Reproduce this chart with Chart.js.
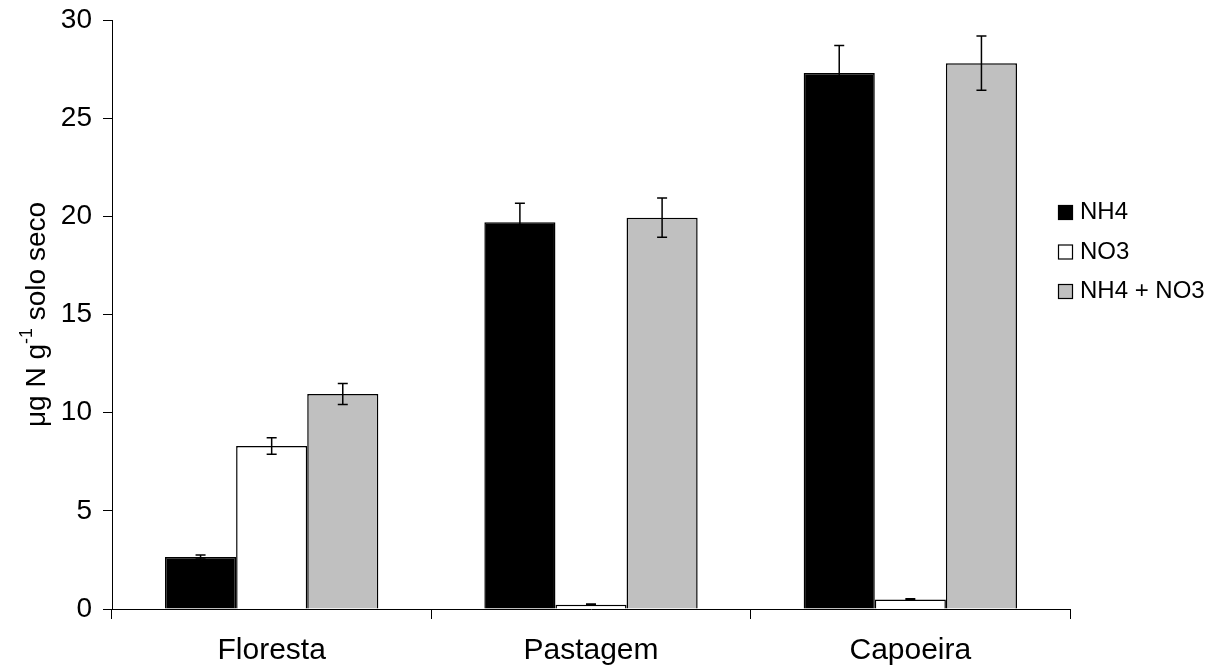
<!DOCTYPE html>
<html>
<head>
<meta charset="utf-8">
<script src="https://cdn.jsdelivr.net/npm/chart.js@4.4.1/dist/chart.umd.min.js"></script>
<style>
  html, body { margin: 0; padding: 0; background: #fff; }
  #wrap { width: 1215px; height: 671px; }
</style>
</head>
<body>
<div id="wrap"><canvas id="chart" width="1215" height="671"></canvas></div>
<script>
/* =====================================================
   DATA
===================================================== */
const categories = ["Floresta", "Pastagem", "Capoeira"];

const nh4 = [2.65, 19.7, 27.3];
const nh4Err = [0.1, 0.97, 1.4];

const no3 = [8.3, 0.22, 0.48];
const no3Err = [0.42, 0.03, 0.04];

const total = [10.95, 19.93, 27.8];
const totalErr = [0.54, 1.0, 1.38];

const yTicks = [0, 5, 10, 15, 20, 25, 30];

const FONT = "'Liberation Sans', Arial, sans-serif";

/* =====================================================
   PLUGINS
===================================================== */
const errorBars = {
  id: "errorBars",
  afterDatasetsDraw(chart) {
    const ctx = chart.ctx;
    const y = chart.scales.y;
    ctx.save();
    ctx.strokeStyle = "#000";
    ctx.lineWidth = 1.5;
    chart.data.datasets.forEach((ds, i) => {
      const meta = chart.getDatasetMeta(i);
      meta.data.forEach((bar, j) => {
        const v = ds.data[j];
        const e = ds.errors[j];
        const top = y.getPixelForValue(v + e);
        const bot = y.getPixelForValue(v - e);
        const x = bar.x;
        ctx.beginPath();
        ctx.moveTo(x, top); ctx.lineTo(x, bot);
        ctx.moveTo(x - 5, top); ctx.lineTo(x + 5, top);
        ctx.moveTo(x - 5, bot); ctx.lineTo(x + 5, bot);
        ctx.stroke();
      });
    });
    ctx.restore();
  }
};

const yTitle = {
  id: "yTitle",
  afterDraw(chart) {
    const ctx = chart.ctx;
    const area = chart.chartArea;
    const main1 = "\u03bcg N g";
    const sup = "-1";
    const main2 = " solo seco";
    ctx.save();
    ctx.fillStyle = "#000";
    ctx.font = "28px " + FONT;
    const w1 = ctx.measureText(main1).width;
    const w3 = ctx.measureText(main2).width;
    ctx.font = "18px " + FONT;
    const w2 = ctx.measureText(sup).width;
    const total = w1 + w2 + w3;
    ctx.translate(45, (area.top + area.bottom) / 2);
    ctx.rotate(-Math.PI / 2);
    ctx.textBaseline = "alphabetic";
    ctx.textAlign = "left";
    let x = -total / 2;
    ctx.font = "28px " + FONT;
    ctx.fillText(main1, x, 0);
    x += w1;
    ctx.font = "18px " + FONT;
    ctx.fillText(sup, x, -13);
    x += w2;
    ctx.font = "28px " + FONT;
    ctx.fillText(main2, x, 0);
    ctx.restore();
  }
};

const sideLegend = {
  id: "sideLegend",
  afterDraw(chart) {
    const ctx = chart.ctx;
    ctx.save();
    ctx.font = "24px " + FONT;
    ctx.textBaseline = "alphabetic";
    ctx.textAlign = "left";
    chart.data.datasets.forEach((ds, i) => {
      const base = 219 + i * 39.5;
      ctx.fillStyle = ds.backgroundColor;
      ctx.fillRect(1058.5, base - 13.5, 14, 14);
      ctx.strokeStyle = "#000";
      ctx.lineWidth = 1.2;
      ctx.strokeRect(1058.5, base - 13.5, 14, 14);
      ctx.fillStyle = "#000";
      ctx.fillText(ds.label, 1080, base);
    });
    ctx.restore();
  }
};

/* =====================================================
   CHART
===================================================== */
new Chart(document.getElementById("chart"), {
  type: "bar",
  data: {
    labels: categories,
    datasets: [
      { label: "NH4", data: nh4, errors: nh4Err, backgroundColor: "#000000" },
      { label: "NO3", data: no3, errors: no3Err, backgroundColor: "#ffffff" },
      { label: "NH4 + NO3", data: total, errors: totalErr, backgroundColor: "#c0c0c0" }
    ].map(d => Object.assign(d, {
      borderColor: "#000",
      borderWidth: 1.5,
      categoryPercentage: 0.668,
      barPercentage: 1.0
    }))
  },
  options: {
    responsive: false,
    devicePixelRatio: 1,
    animation: false,
    layout: { padding: { top: 20, right: 145, left: 0, bottom: 0 } },
    plugins: {
      legend: { display: false },
      tooltip: { enabled: false }
    },
    scales: {
      x: {
        grid: {
          drawOnChartArea: false,
          color: "#000",
          tickLength: 10,
          offset: true
        },
        border: { color: "#000", width: 1 },
        ticks: {
          color: "#000",
          font: { family: FONT, size: 30 },
          padding: 14,
          maxRotation: 0
        },
        afterFit(scale) {
          scale.height = 62;
          scale.paddingLeft = 0;
          scale.paddingRight = 0;
        }
      },
      y: {
        min: 0,
        max: 30,
        afterBuildTicks(scale) {
          scale.ticks = yTicks.map(v => ({ value: v }));
        },
        grid: {
          drawOnChartArea: false,
          color: "#000",
          tickLength: 9
        },
        border: { color: "#000", width: 1 },
        ticks: {
          color: "#000",
          font: { family: FONT, size: 28 },
          padding: 11
        },
        afterFit(scale) {
          scale.width = 112;
          scale.paddingTop = 0;
          scale.paddingBottom = 0;
        }
      }
    }
  },
  plugins: [errorBars, yTitle, sideLegend]
});
</script>
</body>
</html>
